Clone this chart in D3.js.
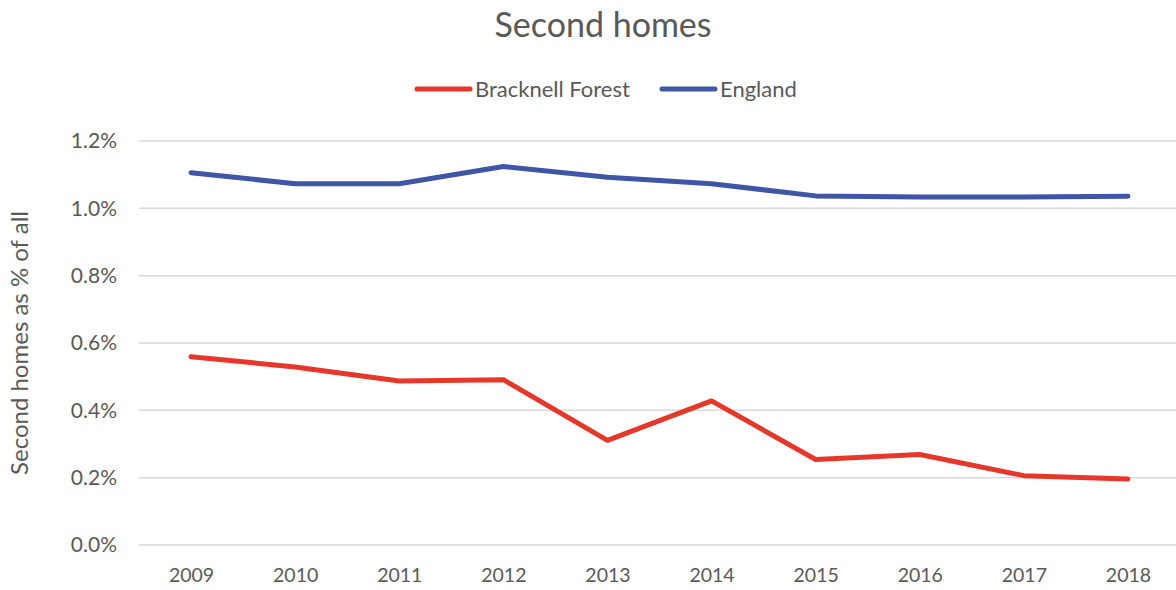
<!DOCTYPE html>
<html>
<head>
<meta charset="utf-8">
<script src="https://cdn.jsdelivr.net/npm/d3@7"></script>
<style>
  body { margin: 0; background: #fff; }
  svg text { font-family: Lato, "Open Sans", sans-serif; fill: #595959; }
</style>
</head>
<body>
<div id="chart"></div>
<script>
const years = ['2009', '2010', '2011', '2012', '2013', '2014', '2015', '2016', '2017', '2018'];
const bracknell = [0.559, 0.529, 0.487, 0.491, 0.311, 0.428, 0.254, 0.269, 0.206, 0.196];
const england = [1.106, 1.073, 1.073, 1.124, 1.092, 1.073, 1.037, 1.034, 1.034, 1.036];
const yTicks = [0, 0.2, 0.4, 0.6, 0.8, 1.0, 1.2];
const seriesNames = ['Bracknell Forest', 'England'];
const colors = ['#E5372A', '#3E56A5'];

const width = 1176, height = 590;
const margin = { top: 141, right: -4, bottom: 45, left: 139 };

const svg = d3.select('#chart')
  .append('svg')
  .attr('width', width)
  .attr('height', height);

const x = d3.scalePoint()
  .domain(years)
  .range([margin.left, width - margin.right])
  .padding(0.5);

const y = d3.scaleLinear()
  .domain([0, 1.2])
  .range([height - margin.bottom, margin.top]);

// gridlines
svg.append('g')
  .selectAll('line')
  .data(yTicks)
  .enter()
  .append('line')
  .attr('x1', margin.left)
  .attr('x2', width - margin.right)
  .attr('y1', d => y(d))
  .attr('y2', d => y(d))
  .attr('stroke', '#d9d9d9')
  .attr('stroke-width', 1.5);

// y axis labels
const yAxis = d3.axisLeft(y).tickValues(yTicks).tickSize(0).tickPadding(22)
  .tickFormat(d => d.toFixed(1) + '%');
svg.append('g')
  .attr('transform', `translate(${margin.left},0)`)
  .call(yAxis)
  .call(g => g.select('.domain').remove())
  .selectAll('text')
  .style('font-size', '21px');

// x axis labels
const xAxis = d3.axisBottom(x).tickSize(0).tickPadding(23);
svg.append('g')
  .attr('transform', `translate(0,${y(0)})`)
  .call(xAxis)
  .call(g => g.select('.domain').remove())
  .selectAll('text')
  .style('font-size', '19.5px');

// lines
const line = d3.line()
  .x((d, i) => x(years[i]))
  .y(d => y(d));

[bracknell, england].forEach((vals, i) => {
  svg.append('path')
    .datum(vals)
    .attr('fill', 'none')
    .attr('stroke', colors[i])
    .attr('stroke-width', 5)
    .attr('stroke-linejoin', 'round')
    .attr('stroke-linecap', 'round')
    .attr('d', line);
});

// title
svg.append('text')
  .attr('x', 603)
  .attr('y', 37)
  .attr('text-anchor', 'middle')
  .style('font-size', '34px')
  .text('Second homes');

// y axis title
svg.append('text')
  .attr('transform', `translate(28,${(y(0) + y(1.2)) / 2}) rotate(-90)`)
  .attr('text-anchor', 'middle')
  .style('font-size', '24px')
  .text('Second homes as % of all');

// legend
const legendX = [417, 662];
const legend = svg.append('g');
seriesNames.forEach((name, i) => {
  legend.append('line')
    .attr('x1', legendX[i])
    .attr('x2', legendX[i] + 53)
    .attr('y1', 89)
    .attr('y2', 89)
    .attr('stroke', colors[i])
    .attr('stroke-width', 5)
    .attr('stroke-linecap', 'round');
  legend.append('text')
    .attr('x', legendX[i] + 58)
    .attr('y', 97)
    .style('font-size', '22px')
    .text(name);
});
</script>
</body>
</html>
